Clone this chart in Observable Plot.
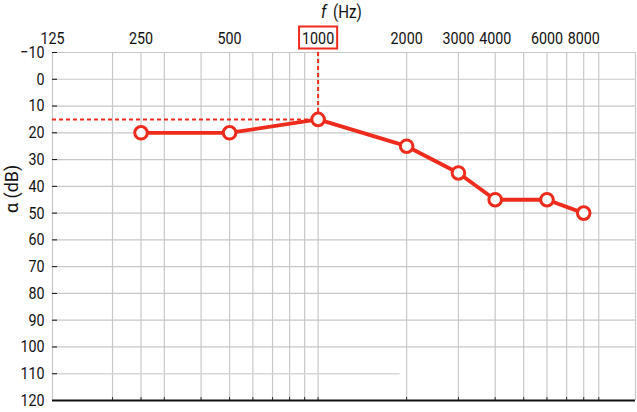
<!DOCTYPE html>
<html>
<head>
<meta charset="utf-8">
<script src="https://cdn.jsdelivr.net/npm/d3@7"></script>
<script src="https://cdn.jsdelivr.net/npm/@observablehq/plot@0.6"></script>
<style>
  html, body { margin: 0; padding: 0; background: #fff; }
  #chart svg { display: block; }
</style>
</head>
<body>
<div id="chart"></div>
<script>
// Data
const freqs = [250, 500, 1000, 2000, 3000, 4000, 6000, 8000];
const levels = [20, 20, 15, 25, 35, 45, 45, 50];
const xTickLabels = [125, 250, 500, 1000, 2000, 3000, 4000, 6000, 8000];
const xGrid = [125, 200, 250, 300, 400, 500, 600, 700, 800, 900, 1000, 2000, 3000, 4000, 5000, 6000, 7000, 8000, 9000, 12000];
const yTicks = [-10, 0, 10, 20, 30, 40, 50, 60, 70, 80, 90, 100, 110, 120];
const yGrid = [-10, 0, 10, 20, 30, 40, 50, 60, 70, 80, 90, 100];
const refFreq = 1000;
const refLevel = 15;
const xTitle = "(Hz)";
const xTitleVar = "f";
const yTitle = "α (dB)";

const red = "#ee2b1c";
const gridColor = "#c8c8c8";
const font = "Roboto, 'Liberation Sans', sans-serif";

const data = freqs.map((f, i) => ({f, v: levels[i]}));

const chart = Plot.plot({
  width: 637,
  height: 412,
  marginLeft: 52,
  marginRight: 2,
  marginTop: 52,
  marginBottom: 12,
  style: {fontFamily: font, fontSize: "17px", background: "#fff", color: "#111"},
  x: {type: "log", domain: [125, 12000]},
  y: {domain: [-10, 120], reverse: true},
  marks: [
    Plot.ruleX(xGrid, {stroke: gridColor, strokeWidth: 1.2}),
    Plot.ruleY(yGrid, {stroke: gridColor, strokeWidth: 1.2}),
    Plot.ruleY([110], {x1: 125, x2: 1900, stroke: "#d8d8d8", strokeWidth: 1.5}),
    Plot.axisY(yTicks, {anchor: "left", tickSize: 5, dx: 5, tickPadding: 8, fontSize: 17, label: null, stroke: "#111", tickFormat: d => d < 0 ? "\u2212" + Math.abs(d) : String(d)}),
    Plot.axisX(xGrid.slice(1, -1), {anchor: "bottom", tickSize: 3, dy: -3, tickFormat: () => "", label: null, stroke: "#333"}),
    Plot.ruleY([120], {stroke: "#111", strokeWidth: 2}),
    Plot.text(xTickLabels, {x: d => d, y: -10, dy: -9, lineAnchor: "bottom", text: d => String(d), fontSize: 17}),
    Plot.text([xTitleVar], {x: refFreq, y: -10, dy: -35, dx: 3, text: d => d, fontStyle: "italic", fontSize: 19, textAnchor: "start", lineAnchor: "bottom"}),
    Plot.text([xTitle], {x: refFreq, y: -10, dy: -35, dx: 15, text: d => d, fontSize: 18, textAnchor: "start", lineAnchor: "bottom"}),
    Plot.text([yTitle], {frameAnchor: "left", y: 50, dx: -40, rotate: -90, text: d => d, fontSize: 18}),
    Plot.ruleY([refLevel], {x1: 125, x2: refFreq, stroke: red, strokeWidth: 2, strokeDasharray: "4,3"}),
    Plot.ruleX([refFreq], {y1: -10, y2: refLevel, stroke: red, strokeWidth: 2, strokeDasharray: "4,3"}),
    Plot.line(data, {x: "f", y: "v", stroke: red, strokeWidth: 3.8}),
    Plot.dot(data, {x: "f", y: "v", r: 6.3, fill: "#fff", stroke: red, strokeWidth: 3})
  ]
});

document.getElementById("chart").appendChild(chart);

// Condense text glyphs horizontally (the original uses a condensed face)
chart.querySelectorAll("text").forEach(t => {
  if (t.textContent === yTitle) return;
  const nodes = t.querySelectorAll("tspan").length ? t.querySelectorAll("tspan") : [t];
  nodes.forEach(n => {
    const len = n.getComputedTextLength();
    if (len > 0) {
      n.setAttribute("textLength", (len * 0.84).toFixed(2));
      n.setAttribute("lengthAdjust", "spacingAndGlyphs");
    }
  });
});

// Box around the reference frequency label
chart.querySelectorAll("text").forEach(t => {
  if (t.textContent === String(refFreq)) {
    const b = t.getBBox();
    const rect = document.createElementNS("http://www.w3.org/2000/svg", "rect");
    rect.setAttribute("x", b.x - 3);
    rect.setAttribute("y", b.y - 1);
    rect.setAttribute("width", b.width + 6);
    rect.setAttribute("height", b.height + 2);
    rect.setAttribute("fill", "none");
    rect.setAttribute("stroke", red);
    rect.setAttribute("stroke-width", 2);
    if (t.getAttribute("transform")) rect.setAttribute("transform", t.getAttribute("transform"));
    t.parentNode.insertBefore(rect, t);
  }
});
</script>
</body>
</html>
